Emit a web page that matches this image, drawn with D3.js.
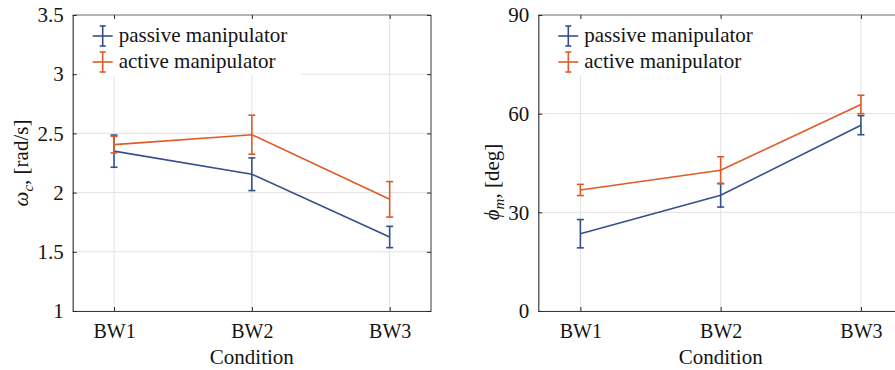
<!DOCTYPE html>
<html>
<head>
<script src="https://d3js.org/d3.v7.min.js"></script>
<style>
  body { margin: 0; background: #fff; }
  text { font-family: "Liberation Serif", "Times New Roman", serif; fill: #141414; }
</style>
</head>
<body>
<div id="chart"></div>
<script>
  // data
  var conditions = ["BW1", "BW2", "BW3"];
  var seriesNames = ["passive manipulator", "active manipulator"];
  var colors = ["#34508c", "#e05a26"];

  var wcPassive = [2.35, 2.155, 1.625];
  var wcPassiveErr = [0.136, 0.138, 0.09];
  var wcActive = [2.405, 2.489, 1.943];
  var wcActiveErr = [0.07, 0.165, 0.15];

  var phiPassive = [23.5, 35.2, 56.5];
  var phiPassiveErr = [4.3, 3.6, 2.9];
  var phiActive = [36.8, 42.8, 62.8];
  var phiActiveErr = [1.7, 4.1, 2.8];

  var wcTicks = [1, 1.5, 2, 2.5, 3, 3.5];
  var phiTicks = [0, 30, 60, 90];

  var svg = d3.select("#chart").append("svg")
      .attr("width", 895)
      .attr("height", 370);

  function panel(opts) {
    var x = d3.scaleLinear().domain([0.7, 3.3]).range([opts.left, opts.right]);
    var y = d3.scaleLinear().domain(opts.yDomain).range([311, 15]);
    var g = svg.append("g");

    // grid
    g.selectAll(".gx").data(conditions).enter().append("line")
      .attr("x1", (d, i) => x(i + 1)).attr("x2", (d, i) => x(i + 1))
      .attr("y1", y.range()[0]).attr("y2", y.range()[1])
      .attr("stroke", "#e3e3e3").attr("stroke-width", 1);
    g.selectAll(".gy").data(opts.yTicks).enter().append("line")
      .attr("x1", opts.left).attr("x2", opts.right)
      .attr("y1", d => y(d)).attr("y2", d => y(d))
      .attr("stroke", "#e3e3e3").attr("stroke-width", 1);

    // series
    opts.series.forEach(function(s, k) {
      var pts = s.values.map((v, i) => ({ i: i + 1, v: v, e: s.err[i] }));
      g.append("path").datum(pts)
        .attr("fill", "none")
        .attr("stroke", colors[k])
        .attr("stroke-width", 1.6)
        .attr("d", d3.line().x(d => x(d.i)).y(d => y(d.v)));
      var eb = g.selectAll(".eb" + k).data(pts).enter().append("g");
      eb.append("line")
        .attr("x1", d => x(d.i)).attr("x2", d => x(d.i))
        .attr("y1", d => y(d.v - d.e)).attr("y2", d => y(d.v + d.e))
        .attr("stroke", colors[k]).attr("stroke-width", 1.6);
      [-1, 1].forEach(function(sg) {
        eb.append("line")
          .attr("x1", d => x(d.i) - 3.5).attr("x2", d => x(d.i) + 3.5)
          .attr("y1", d => y(d.v + sg * d.e)).attr("y2", d => y(d.v + sg * d.e))
          .attr("stroke", colors[k]).attr("stroke-width", 1.6);
      });
    });

    // legend
    var lg = g.append("g").attr("transform", "translate(" + (opts.left + 8) + ",17)");
    lg.append("rect").attr("x", 0).attr("y", 0).attr("width", opts.legendW).attr("height", 58)
      .attr("fill", "#fff");
    seriesNames.forEach(function(name, k) {
      var cy = 19 + k * 26;
      var cx = 22;
      var c = colors[k];
      lg.append("line").attr("x1", cx - 10).attr("x2", cx + 10).attr("y1", cy).attr("y2", cy)
        .attr("stroke", c).attr("stroke-width", 1.6);
      lg.append("line").attr("x1", cx).attr("x2", cx).attr("y1", cy - 10).attr("y2", cy + 10)
        .attr("stroke", c).attr("stroke-width", 1.6);
      [-10, 10].forEach(function(o) {
        lg.append("line").attr("x1", cx - 3).attr("x2", cx + 3).attr("y1", cy + o).attr("y2", cy + o)
          .attr("stroke", c).attr("stroke-width", 1.6);
      });
      lg.append("text").attr("x", 38).attr("y", cy + 6)
        .style("font-size", "21px").text(name);
    });

    // box: top and right in grey
    g.append("line").attr("x1", opts.left).attr("x2", opts.right).attr("y1", 15).attr("y2", 15)
      .attr("stroke", "#7a7a7a").attr("stroke-width", 1.2);
    g.append("line").attr("x1", opts.right).attr("x2", opts.right).attr("y1", 15).attr("y2", 311)
      .attr("stroke", "#7a7a7a").attr("stroke-width", 1.5);

    // axes
    var xAxis = g.append("g").attr("transform", "translate(0,311)")
      .call(d3.axisBottom(x).tickValues([1, 2, 3]).tickFormat(d => conditions[d - 1])
        .tickSizeInner(-4).tickSizeOuter(0).tickPadding(13));
    var yAxis = g.append("g").attr("transform", "translate(" + opts.left + ",0)")
      .call(d3.axisLeft(y).tickValues(opts.yTicks).tickFormat(d3.format("")).tickSizeInner(-4).tickSizeOuter(0).tickPadding(9));
    // top and right ticks
    g.append("g").attr("transform", "translate(0,15)")
      .call(d3.axisTop(x).tickValues([1, 2, 3]).tickFormat("").tickSizeInner(-4).tickSizeOuter(0))
      .select(".domain").remove();
    g.append("g").attr("transform", "translate(" + opts.right + ",0)")
      .call(d3.axisRight(y).tickValues(opts.yTicks).tickFormat("").tickSizeInner(-4).tickSizeOuter(0))
      .select(".domain").remove();

    [xAxis, yAxis].forEach(function(a) {
      a.select(".domain").attr("stroke", "#3a3a3a").attr("stroke-width", 1.2);
      a.selectAll("text").style("font-family", "Liberation Serif").attr("fill", "#141414");
    });
    xAxis.selectAll("text").style("font-size", "20px");
    yAxis.selectAll("text").style("font-size", "21px");
    g.selectAll(".tick line").attr("stroke", "#262626");

    // axis titles
    g.append("text")
      .attr("x", (x(1) + x(3)) / 2).attr("y", 364)
      .attr("text-anchor", "middle").style("font-size", "21px")
      .text("Condition");

    var yl = g.append("text")
      .attr("transform", "translate(" + opts.yLabelX + "," + opts.yLabelY + ") rotate(-90)")
      .attr("text-anchor", "middle").style("font-size", "21px");
    yl.append("tspan").style("font-style", "italic").text(opts.sym);
    yl.append("tspan").style("font-style", "italic").style("font-size", "15px").attr("dy", 5).text(opts.sub);
    yl.append("tspan").attr("dy", -5).text(",  " + opts.unit);
  }

  panel({
    left: 72.7, right: 431, yDomain: [1, 3.5], yTicks: wcTicks,
    legendW: 220, yLabelX: 28, yLabelY: 163,
    sym: "ω", sub: "c", unit: "[rad/s]",
    series: [{ values: wcPassive, err: wcPassiveErr }, { values: wcActive, err: wcActiveErr }]
  });

  panel({
    left: 538.3, right: 903, yDomain: [0, 90], yTicks: phiTicks,
    legendW: 222, yLabelX: 499, yLabelY: 182,
    sym: "ϕ", sub: "m", unit: "[deg]",
    series: [{ values: phiPassive, err: phiPassiveErr }, { values: phiActive, err: phiActiveErr }]
  });
</script>
</body>
</html>
